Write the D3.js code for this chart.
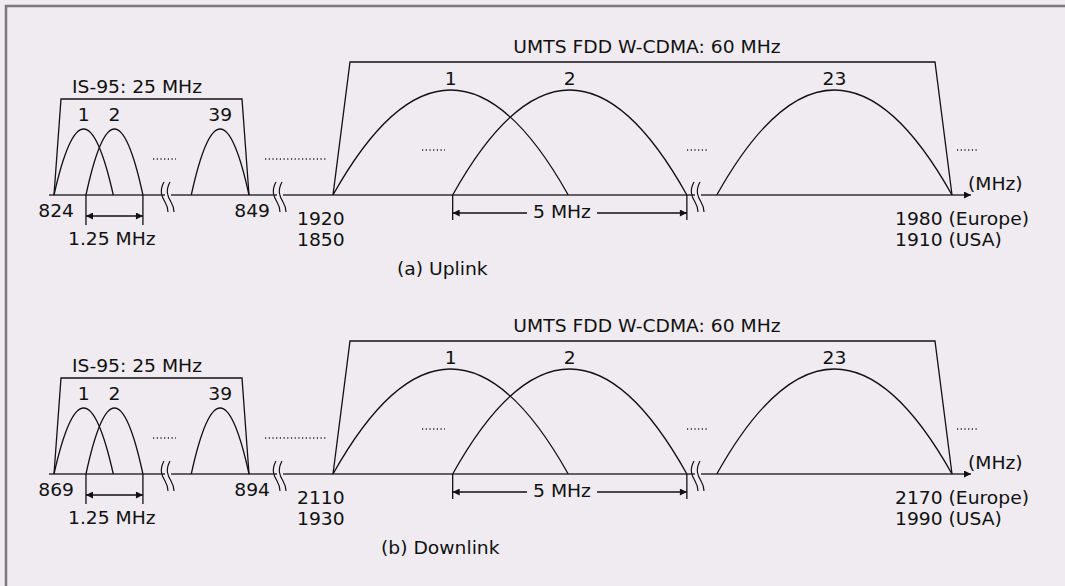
<!doctype html>
<html>
<head>
<meta charset="utf-8">
<title>IS-95 and UMTS spectrum</title>
<style>
  html, body { margin: 0; padding: 0; background: #efebf0; }
  svg { display: block; }
  text { font-family: "DejaVu Sans", "Noto Sans", sans-serif; font-size: 17.5px; fill: #111; }
</style>
<script src="https://cdnjs.cloudflare.com/ajax/libs/d3/7.8.5/d3.min.js"></script>
</head>
<body>
<script>
// --- data ---
var panelLabels = ["(a) Uplink", "(b) Downlink"];
var is95Edges = [[824, 849], [869, 894]];          // MHz
var umtsEdges = [[1920, 1980], [2110, 2170]];      // Europe
var umtsUsaEdges = [[1850, 1910], [1930, 1990]];   // USA
// carriers as drawn (offset from band start, schematic MHz)
var is95Carriers = [
  { name: "1", lo: 0, hi: 7.6 },
  { name: "2", lo: 4.1, hi: 11.4 },
  { name: "39", lo: 17.6, hi: 25 }
];
var umtsCarriers = [
  { name: "1", lo: 0, hi: 22.8 },
  { name: "2", lo: 11.6, hi: 34.3 },
  { name: "23", lo: 37.2, hi: 60 }
];
var is95Title = "IS-95: 25 MHz";
var umtsTitle = "UMTS FDD W-CDMA: 60 MHz";
var is95Spacing = "1.25 MHz";
var umtsSpacing = "5 MHz";

var width = 1065, height = 586;
var baseY = [195, 474];
var sx = 1.07; // glyphs in the picture are a little wide

var svg = d3.select("body").append("svg")
  .attr("width", width)
  .attr("height", height);

svg.append("rect").attr("width", width).attr("height", height).attr("fill", "#efebf0");

// frame (left + top only)
svg.append("path")
  .attr("d", "M6," + height + " L6,6 L" + width + ",6")
  .attr("fill", "none")
  .attr("stroke", "#7a7a7a")
  .attr("stroke-width", 2.5);

var defs = svg.append("defs");
defs.append("marker")
  .attr("id", "head")
  .attr("viewBox", "0 0 10 10")
  .attr("refX", 10).attr("refY", 5)
  .attr("markerWidth", 9).attr("markerHeight", 7)
  .attr("markerUnits", "userSpaceOnUse")
  .attr("orient", "auto-start-reverse")
  .append("path").attr("d", "M0,0 L10,5 L0,10 Z").attr("fill", "#111");
defs.append("marker")
  .attr("id", "axhead")
  .attr("viewBox", "0 0 10 10")
  .attr("refX", 10).attr("refY", 5)
  .attr("markerWidth", 11).attr("markerHeight", 7)
  .attr("markerUnits", "userSpaceOnUse")
  .attr("orient", "auto")
  .append("path").attr("d", "M0,0 L10,5 L0,10 Z").attr("fill", "#111");

function label(g, x, y, str, anchor) {
  return g.append("text")
    .attr("transform", "translate(" + x + "," + y + ") scale(" + sx + ",1)")
    .attr("text-anchor", anchor || "start")
    .text(str);
}

function arch(x0, x1, base, h) {
  var p = d3.path();
  p.moveTo(x0, base);
  p.quadraticCurveTo((x0 + x1) / 2, base - 2 * h, x1, base);
  return p.toString();
}

function dots(g, x0, x1, y) {
  g.append("line")
    .attr("x1", x0).attr("x2", x1).attr("y1", y).attr("y2", y)
    .attr("stroke", "#222").attr("stroke-width", 1.3)
    .attr("stroke-dasharray", "1.2 2.5");
}

function axisBreak(g, cx, base) {
  g.append("rect")
    .attr("x", cx - 3).attr("y", base - 2).attr("width", 6).attr("height", 4)
    .attr("fill", "#efebf0");
  [-3, 3].forEach(function (dx) {
    var x = cx + dx;
    g.append("path")
      .attr("d", "M" + (x - 1) + "," + (base - 13) +
        " C" + (x - 6) + "," + (base - 4) + " " + (x - 3) + "," + (base + 2) + " " + x + "," + (base + 7) +
        " S" + (x + 3) + "," + (base + 14) + " " + (x + 3) + "," + (base + 17))
      .attr("fill", "none").attr("stroke", "#111").attr("stroke-width", 1.2);
  });
}

function trapezoid(g, x0, x1, base, top, inset) {
  g.append("path")
    .attr("d", "M" + x0 + "," + base + " L" + (x0 + inset) + "," + top +
      " L" + (x1 - inset) + "," + top + " L" + x1 + "," + base)
    .attr("fill", "none").attr("stroke", "#111").attr("stroke-width", 1.3);
}

function dimension(g, x0, x1, base, yArrow, lineBottom, gap) {
  [x0, x1].forEach(function (x) {
    g.append("line").attr("x1", x).attr("x2", x).attr("y1", base).attr("y2", lineBottom)
      .attr("stroke", "#111").attr("stroke-width", 1.3);
  });
  if (gap) {
    g.append("line").attr("x1", gap[0]).attr("x2", x0).attr("y1", yArrow).attr("y2", yArrow)
      .attr("stroke", "#111").attr("stroke-width", 1.3).attr("marker-end", "url(#head)");
    g.append("line").attr("x1", gap[1]).attr("x2", x1).attr("y1", yArrow).attr("y2", yArrow)
      .attr("stroke", "#111").attr("stroke-width", 1.3).attr("marker-end", "url(#head)");
  } else {
    g.append("line").attr("x1", x0).attr("x2", x1).attr("y1", yArrow).attr("y2", yArrow)
      .attr("stroke", "#111").attr("stroke-width", 1.3)
      .attr("marker-start", "url(#head)").attr("marker-end", "url(#head)");
  }
}

panelLabels.forEach(function (panel, i) {
  var base = baseY[i];
  var g = svg.append("g");

  var x95 = d3.scaleLinear().domain(is95Edges[i]).range([54, 249]);
  var xU = d3.scaleLinear().domain(umtsEdges[i]).range([333, 952]);
  var lo95 = is95Edges[i][0], loU = umtsEdges[i][0];

  // frequency axis
  g.append("line")
    .attr("x1", 49).attr("x2", 971).attr("y1", base).attr("y2", base)
    .attr("stroke", "#333").attr("stroke-width", 1.6)
    .attr("marker-end", "url(#axhead)");

  // IS-95 block
  trapezoid(g, x95(is95Edges[i][0]), x95(is95Edges[i][1]), base, base - 96, 7);
  g.selectAll(".c95").data(is95Carriers).enter().append("path")
    .attr("d", function (d) { return arch(x95(lo95 + d.lo), x95(lo95 + d.hi), base, 66); })
    .attr("fill", "none").attr("stroke", "#111").attr("stroke-width", 1.3);
  is95Carriers.forEach(function (d) {
    label(g, x95(lo95 + (d.lo + d.hi) / 2), base - 74, d.name, "middle");
  });
  label(g, 72, base - 102, is95Title);

  // UMTS block
  trapezoid(g, xU(umtsEdges[i][0]), xU(umtsEdges[i][1]), base, base - 133, 17);
  umtsCarriers.forEach(function (d) {
    g.append("path")
      .attr("d", arch(xU(loU + d.lo), xU(loU + d.hi), base, 105))
      .attr("fill", "none").attr("stroke", "#111").attr("stroke-width", 1.3);
    label(g, xU(loU + (d.lo + d.hi) / 2), base - 110, d.name, "middle");
  });
  label(g, 647, base - 142, umtsTitle, "middle");

  // ellipses
  dots(g, 153, 176, base - 36);
  dots(g, 265, 326, base - 36);
  dots(g, 422, 445, base - 45);
  dots(g, 687, 709, base - 45);
  dots(g, 957, 979, base - 45);

  // axis breaks
  axisBreak(g, 168, base);
  axisBreak(g, 280, base);
  axisBreak(g, 698, base);

  // spacing dimensions
  var c1 = is95Carriers[1];
  dimension(g, x95(lo95 + c1.lo), x95(lo95 + c1.hi), base, base + 21, base + 30);
  label(g, 68, base + 50, is95Spacing);
  var u1 = umtsCarriers[1];
  dimension(g, xU(loU + u1.lo), xU(loU + u1.hi), base, base + 18, base + 25, [527, 597]);
  label(g, 562, base + 23, umtsSpacing, "middle");

  // frequency labels
  label(g, 74, base + 22, String(is95Edges[i][0]), "end");
  label(g, 270, base + 22, String(is95Edges[i][1]), "end");
  label(g, 297, base + 30, String(umtsEdges[i][0]));
  label(g, 297, base + 51, String(umtsUsaEdges[i][0]));
  label(g, 895, base + 30, umtsEdges[i][1] + " (Europe)");
  label(g, 895, base + 51, umtsUsaEdges[i][1] + " (USA)");
  label(g, 968, base - 5, "(MHz)");

  label(g, i === 0 ? 397 : 381, base + 80, panel);
});
</script>
</body>
</html>
